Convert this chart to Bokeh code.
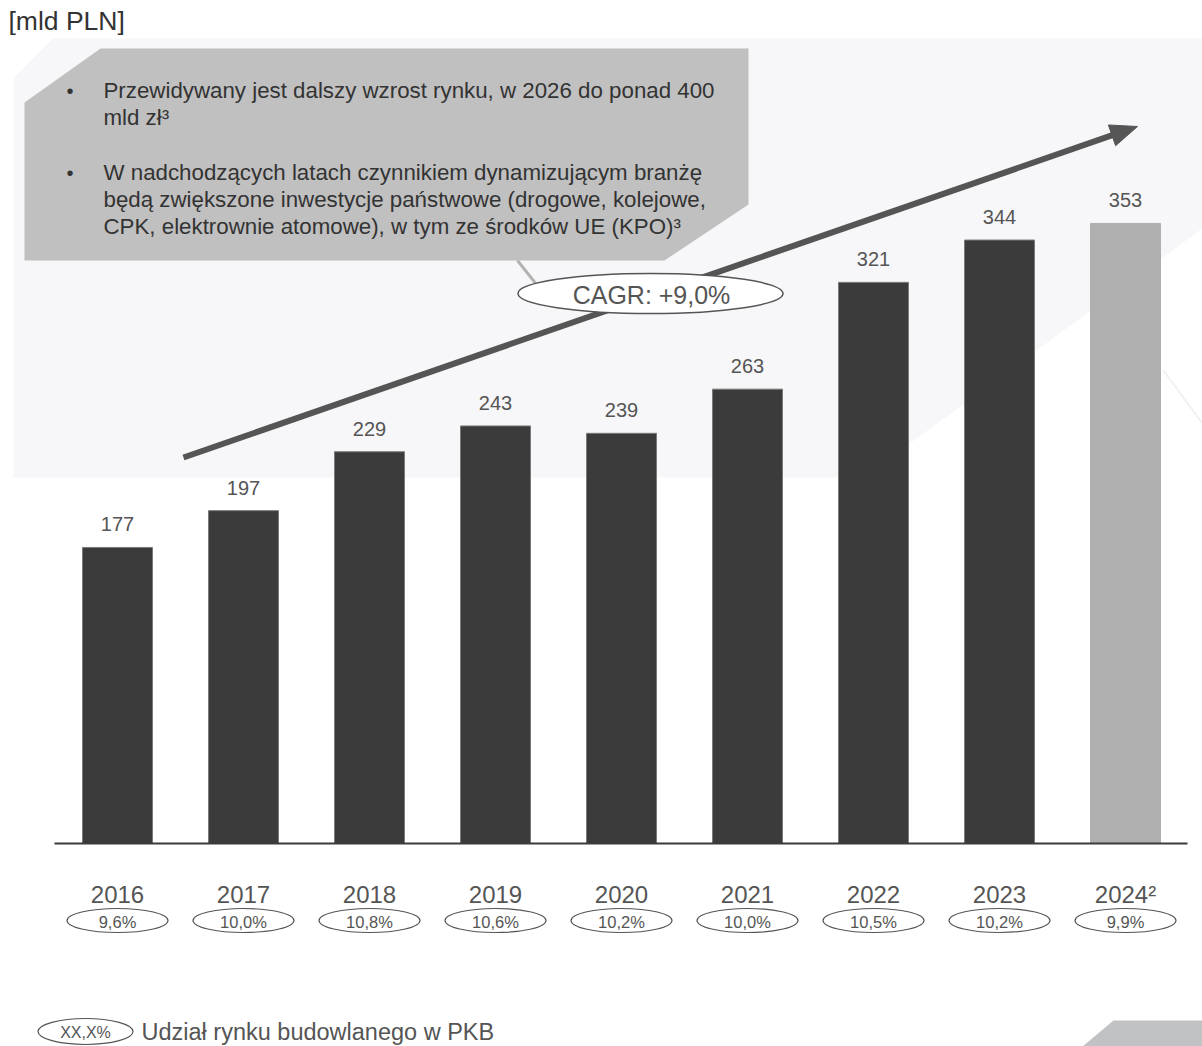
import math
from bokeh.plotting import figure
from bokeh.models import Range1d
from bokeh.embed import file_html
from bokeh.resources import INLINE
from bokeh.core.properties import value

# ---------------- data ----------------
years = ["2016", "2017", "2018", "2019", "2020", "2021", "2022", "2023", "2024²"]
market_bn_pln = [177, 197, 229, 243, 239, 263, 321, 344, 353]
gdp_share = ["9,6%", "10,0%", "10,8%", "10,6%", "10,2%", "10,0%", "10,5%", "10,2%", "9,9%"]
is_estimate = [False, False, False, False, False, False, False, False, True]
unit_label = "[mld PLN]"
cagr_label = "CAGR: +9,0%"
callout_lines = [
    "Przewidywany jest dalszy wzrost rynku, w 2026 do ponad 400",
    "mld zł³",
    "W nadchodzących latach czynnikiem dynamizującym branżę",
    "będą zwiększone inwestycje państwowe (drogowe, kolejowe,",
    "CPK, elektrownie atomowe), w tym ze środków UE (KPO)³",
]
callout_bullets = [True, False, True, False, False]
legend_sample = "XX,X%"
legend_text = "Udział rynku budowlanego w PKB"

# ---------------- layout ----------------
W, H = 1202, 1046
FONT = "Liberation Sans"
TXT = "#555555"
DARK = "#3b3b3b"
LIGHTBAR = "#afafaf"

# x: category index -> pixel  (first centre 117 px, step 126 px)
X_FIRST, X_STEP = 117.0, 126.0
x0 = -X_FIRST / X_STEP
x1 = (W - X_FIRST) / X_STEP
# y: value -> pixel (baseline at 843 px is value AXIS_MIN, 1.841 px per unit)
BASE_PX, PX_PER_UNIT, AXIS_MIN = 843.0, 1.841, 16.2
y0 = AXIS_MIN - (H - BASE_PX) / PX_PER_UNIT
y1 = AXIS_MIN + BASE_PX / PX_PER_UNIT

p = figure(width=W, height=H, output_backend="svg", toolbar_location=None,
           x_range=Range1d(x0, x1), y_range=Range1d(y0, y1),
           x_axis_location=None, y_axis_location=None,
           min_border=0, min_border_left=0, min_border_right=0,
           min_border_top=0, min_border_bottom=0,
           outline_line_color=None, background_fill_color="white",
           border_fill_color="white")
p.grid.visible = False
p.extra_x_ranges = {"px": Range1d(0, W)}
p.extra_y_ranges = {"px": Range1d(H, 0)}
PX = dict(x_range_name="px", y_range_name="px")

# background light panel
p.patch([13, 52, W, W, 863, 13], [78, 38, 38, 228, 477, 477],
        fill_color="#f7f7f9", line_color=None, **PX)
p.line([1163, W], [370, 423], line_color="#f1f1f4", line_width=2, **PX)

# unit label
p.text(x=[8], y=[20], text=[unit_label], text_font=value(FONT), text_font_size="26.5px",
       text_color="#333333", text_baseline="middle", text_align="left", **PX)

# callout box
p.patch([24, 100, 748, 748, 664, 24], [102, 48, 48, 204, 260, 260],
        fill_color="#c0c0c0", line_color=None, **PX)
line_y = [90, 117, 172, 199, 226]
p.text(x=[103] * len(callout_lines), y=line_y, text=callout_lines,
       text_font=value(FONT), text_font_size="22.3px", text_color="#333333",
       text_baseline="middle", text_align="left", **PX)
bul_y = [y for y, b in zip(line_y, callout_bullets) if b]
p.text(x=[66] * len(bul_y), y=bul_y, text=["•"] * len(bul_y),
       text_font=value(FONT), text_font_size="20px", text_color="#333333",
       text_baseline="middle", text_align="left", **PX)
# leader line
p.line([517, 536], [260, 284], line_color="#b3b3b3", line_width=3, **PX)

# bars
idx = list(range(len(years)))
colors = [LIGHTBAR if e else DARK for e in is_estimate]
outlines = [LIGHTBAR if e else "#7a7a7a" for e in is_estimate]
p.vbar(x=idx, top=market_bn_pln, bottom=AXIS_MIN, width=70 / X_STEP,
       fill_color=colors, line_color=outlines, line_width=1)

# baseline
p.line([54, 1187], [843, 843], line_color=DARK, line_width=2, **PX)

# growth arrow (shaft + head, drawn as glyphs so the CAGR ellipse sits on top)
tx, ty, hx, hy = 183.0, 457.0, 1137.0, 126.0
L = math.hypot(hx - tx, hy - ty)
ux, uy = (hx - tx) / L, (hy - ty) / L
nx, ny = -uy, ux
HEAD_L, HEAD_W = 27.0, 11.0
bx, by = hx - HEAD_L * ux, hy - HEAD_L * uy
p.line([tx, bx + 2 * ux], [ty, by + 2 * uy], line_color="#555555", line_width=6, **PX)
p.patch([hx, bx + HEAD_W * nx, bx - HEAD_W * nx], [hy, by + HEAD_W * ny, by - HEAD_W * ny],
        fill_color="#555555", line_color="#555555", **PX)

# CAGR ellipse
p.ellipse(x=[650], y=[293], width=265, height=40, fill_color="white",
          line_color="#555555", line_width=1.5, **PX)
p.text(x=[651], y=[294], text=[cagr_label], text_font=value(FONT), text_font_size="25px",
       text_color=TXT, text_align="center", text_baseline="middle", **PX)

# value labels
p.text(x=idx, y=market_bn_pln, text=[str(v) for v in market_bn_pln],
       text_font=value(FONT), text_font_size="20px", text_color=TXT,
       text_align="center", text_baseline="alphabetic", y_offset=-23)

# year labels
p.text(x=idx, y=[894] * len(idx), text=years, y_range_name="px",
       text_font=value(FONT), text_font_size="24px", text_color=TXT,
       text_align="center", text_baseline="middle")

# GDP share ellipses
p.ellipse(x=idx, y=[920] * len(idx), width=101 / X_STEP, height=24, y_range_name="px",
          fill_color=None, line_color="#555555", line_width=1.2)
p.text(x=idx, y=[921] * len(idx), text=gdp_share, y_range_name="px",
       text_font=value(FONT), text_font_size="16.5px", text_color=TXT,
       text_align="center", text_baseline="middle")

# footer legend
p.ellipse(x=[85], y=[1031], width=95, height=26, fill_color=None,
          line_color="#555555", line_width=1.2, **PX)
p.text(x=[85], y=[1032], text=[legend_sample], text_font=value(FONT),
       text_font_size="16px", text_color=TXT, text_align="center",
       text_baseline="middle", **PX)
p.text(x=[141], y=[1031], text=[legend_text], text_font=value(FONT),
       text_font_size="23.5px", text_color=TXT, text_align="left",
       text_baseline="middle", **PX)

# bottom-right decoration
p.patch([1082, 1113, W, W], [H, 1020, 1020, H], fill_color="#c0c2c4",
        line_color=None, **PX)

open("out.html", "w").write(file_html(p, INLINE))
